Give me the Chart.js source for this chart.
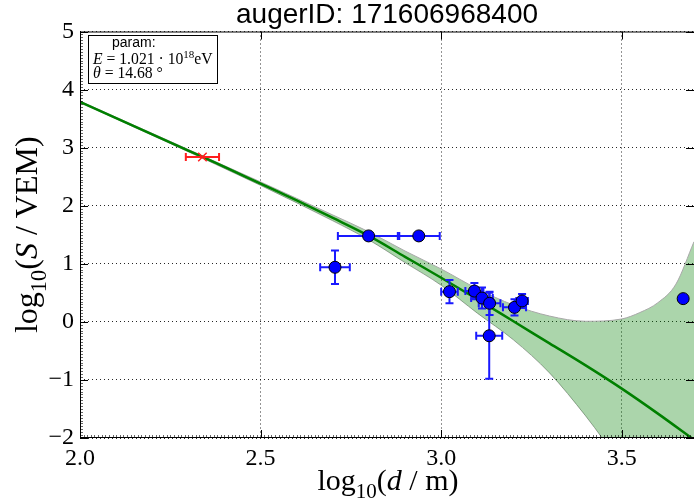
<!DOCTYPE html>
<html><head><meta charset="utf-8">
<script src="https://cdn.jsdelivr.net/npm/chart.js@4/dist/chart.umd.min.js"></script>
<style>html,body{margin:0;padding:0;background:#fff;overflow:hidden}canvas{display:block}</style>
</head><body>
<canvas id="c" width="694" height="501"></canvas>
<script>
// ---------- data ----------
const titleText = 'augerID: 171606968400';
const xTickValues = [2.0, 2.5, 3.0, 3.5];
const yTickValues = [-2, -1, 0, 1, 2, 3, 4, 5];

// fitted LDF (green line)
const fitX = [2.0, 2.1, 2.2, 2.3, 2.4, 2.5, 2.6, 2.7, 2.8, 2.9, 3.0, 3.1, 3.2, 3.3, 3.4, 3.5, 3.6, 3.7];
const fitY = [3.79, 3.51, 3.23, 2.95, 2.67, 2.38, 2.09, 1.79, 1.48, 1.12, 0.76, 0.39, 0.01, -0.37, -0.75, -1.15, -1.58, -2.03];

// uncertainty band
const bandX     = [2.0, 2.5, 2.7, 2.8, 2.9, 3.0, 3.1, 3.2, 3.3, 3.4, 3.5, 3.55, 3.6, 3.65, 3.7];
const bandUpper = [3.80, 2.41, 1.84, 1.55, 1.22, 0.91, 0.57, 0.29, 0.10, 0.01, 0.05, 0.16, 0.33, 0.65, 1.38];
const bandLower = [3.78, 2.35, 1.74, 1.41, 1.02, 0.63, 0.15, -0.31, -0.88, -1.62, -2.45, -2.80, -3.15, -3.60, -4.10];

// stations (blue)
const stationX    = [2.706, 2.799, 2.938, 3.023, 3.092, 3.113, 3.134, 3.133, 3.203, 3.224, 3.67];
const stationY    = [0.94, 1.48, 1.48, 0.52, 0.53, 0.41, 0.32, -0.24, 0.25, 0.36, 0.40];
const stationXErr = [0.041, 0.085, 0.058, 0.023, 0.025, 0.03, 0.03, 0.036, 0.032, 0.016, 0];
const stationYErr = [0.29, 0, 0, 0.20, 0.14, 0.18, 0.20, 0.74, 0.14, 0.12, 0];

// reference point (red cross)
const refX = [2.339];
const refY = [2.84];
const refXErr = [0.046];

const paramEnergy = '1.021';
const paramEnergyExp = '18';
const paramTheta = '14.68';

// ---------- helpers ----------
const pts = (xs, ys) => xs.map((x, i) => ({x: x, y: ys[i]}));
const SERIF = '"Liberation Serif", "DejaVu Serif", serif';
const SANS = '"Liberation Sans", Arial, sans-serif';

function drawRich(ctx, parts, size, x, y, align) {
  const fontFor = p => {
    const s = (p.sub || p.sup) ? size * 0.7 : size;
    return (p.it ? 'italic ' : '') + s + 'px ' + (p.fam || SERIF);
  };
  let total = 0;
  parts.forEach(p => { ctx.font = fontFor(p); p.w = ctx.measureText(p.t).width; total += p.w; });
  let cx = align === 'center' ? x - total / 2 : x;
  parts.forEach(p => {
    ctx.font = fontFor(p);
    let dy = 0;
    if (p.sub) dy = size * 0.28;
    if (p.sup) dy = -size * 0.38;
    ctx.fillText(p.t, cx, y + dy);
    cx += p.w;
  });
}

function drawErrBars(chart, xs, ys, xe, ye, color) {
  const ctx = chart.ctx, xs_ = chart.scales.x, ys_ = chart.scales.y;
  const cap = 4;
  ctx.save();
  ctx.strokeStyle = color;
  ctx.lineWidth = 2;
  for (let i = 0; i < xs.length; i++) {
    const px = xs_.getPixelForValue(xs[i]);
    const py = ys_.getPixelForValue(ys[i]);
    if (xe[i] > 0) {
      const l = xs_.getPixelForValue(xs[i] - xe[i]);
      const r = xs_.getPixelForValue(xs[i] + xe[i]);
      ctx.beginPath();
      ctx.moveTo(l, py); ctx.lineTo(r, py);
      ctx.moveTo(l, py - cap); ctx.lineTo(l, py + cap);
      ctx.moveTo(r, py - cap); ctx.lineTo(r, py + cap);
      ctx.stroke();
    }
    if (ye && ye[i] > 0) {
      const t = ys_.getPixelForValue(ys[i] + ye[i]);
      const b = ys_.getPixelForValue(ys[i] - ye[i]);
      ctx.beginPath();
      ctx.moveTo(px, t); ctx.lineTo(px, b);
      ctx.moveTo(px - cap, t); ctx.lineTo(px + cap, t);
      ctx.moveTo(px - cap, b); ctx.lineTo(px + cap, b);
      ctx.stroke();
    }
  }
  ctx.restore();
}

const deco = {
  id: 'deco',
  beforeDatasetDraw(chart, args) {
    if (args.index === 4) drawErrBars(chart, stationX, stationY, stationXErr, stationYErr, 'rgb(25,25,255)');
    if (args.index === 3) drawErrBars(chart, refX, refY, refXErr, null, 'rgb(255,30,30)');
  },
  afterDraw(chart) {
    const ctx = chart.ctx, a = chart.chartArea;
    const sx = chart.scales.x, sy = chart.scales.y;
    ctx.save();
    ctx.strokeStyle = '#000';
    ctx.lineWidth = 1;
    ctx.beginPath();
    ctx.moveTo(a.left + 0.5, a.top + 0.5); ctx.lineTo(a.right, a.top + 0.5);
    ctx.moveTo(a.left + 0.5, a.top); ctx.lineTo(a.left + 0.5, a.bottom);
    ctx.moveTo(a.left, a.bottom - 0.5); ctx.lineTo(a.right, a.bottom - 0.5);
    ctx.stroke();
    const L = 8;
    ctx.beginPath();
    xTickValues.forEach(v => {
      const p = Math.round(sx.getPixelForValue(v)) + 0.5;
      ctx.moveTo(p, a.bottom); ctx.lineTo(p, a.bottom - L);
      ctx.moveTo(p, a.top); ctx.lineTo(p, a.top + L);
    });
    yTickValues.forEach(v => {
      const p = Math.round(sy.getPixelForValue(v)) + 0.5;
      ctx.moveTo(a.left, p); ctx.lineTo(a.left + L, p);
      ctx.moveTo(a.right, p); ctx.lineTo(a.right - L, p);
    });
    ctx.stroke();
    ctx.strokeStyle = 'rgba(0,0,0,0.6)';
    ctx.beginPath();
    for (let v = -2; v <= 5.0001; v += 0.05) {
      const p = Math.round(sy.getPixelForValue(v)) + 0.5;
      ctx.moveTo(a.left, p); ctx.lineTo(a.left + 3, p);
    }
    for (let v = 2; v <= 3.7; v += 0.01) {
      const p = Math.round(sx.getPixelForValue(v)) + 0.5;
      ctx.moveTo(p, a.bottom); ctx.lineTo(p, a.bottom - 3);
    }
    ctx.stroke();

    // axis titles
    ctx.fillStyle = '#000';
    ctx.textBaseline = 'alphabetic';
    ctx.textAlign = 'left';
    drawRich(ctx, [{t: 'log'}, {t: '10', sub: true}, {t: '('}, {t: 'd', it: true}, {t: ' / m)'}],
      30, 388, 490, 'center');
    ctx.save();
    ctx.translate(37, (a.top + a.bottom) / 2);
    ctx.rotate(-Math.PI / 2);
    drawRich(ctx, [{t: 'log'}, {t: '10', sub: true}, {t: '('}, {t: 'S', it: true}, {t: ' / VEM)'}],
      32, 0, 0, 'center');
    ctx.restore();

    // parameter box
    ctx.fillStyle = '#fff';
    ctx.fillRect(88.5, 35.5, 129, 48);
    ctx.strokeStyle = '#000';
    ctx.lineWidth = 1;
    ctx.strokeRect(88.5, 35.5, 129, 48);
    ctx.fillStyle = '#000';
    ctx.font = '14px ' + SANS;
    ctx.fillText('param:', 112, 47);
    drawRich(ctx, [{t: 'E', it: true}, {t: ' = ' + paramEnergy + ' · 10'}, {t: paramEnergyExp, sup: true}, {t: 'eV'}],
      15.7, 93, 64, 'left');
    drawRich(ctx, [{t: 'θ', it: true}, {t: ' = ' + paramTheta + ' °'}], 15.7, 93, 78, 'left');
    ctx.restore();
  }
};

const gridCol = 'rgba(0,0,0,0.85)';
new Chart(document.getElementById('c'), {
  type: 'line',
  data: {
    datasets: [
      { label: 'lower', data: pts(bandX, bandLower), borderColor: '#a8a8a8', borderWidth: 1,
        pointRadius: 0, fill: false, cubicInterpolationMode: 'monotone', order: 5 },
      { label: 'upper', data: pts(bandX, bandUpper), borderColor: '#a8a8a8', borderWidth: 1,
        pointRadius: 0, fill: '-1', backgroundColor: 'rgba(0,128,0,0.33)', cubicInterpolationMode: 'monotone', order: 4 },
      { label: 'fit', data: pts(fitX, fitY), borderColor: '#008000', borderWidth: 2.5,
        pointRadius: 0, fill: false, cubicInterpolationMode: 'monotone', order: 3 },
      { label: 'ref', data: pts(refX, refY), showLine: false, pointStyle: 'crossRot', pointRadius: 6,
        borderColor: 'rgb(255,30,30)', borderWidth: 1.5, backgroundColor: 'rgb(255,30,30)', order: 2 },
      { label: 'stations', data: pts(stationX, stationY), showLine: false, pointStyle: 'circle', pointRadius: 6,
        backgroundColor: '#0000ff', borderColor: '#000', borderWidth: 1, order: 1 }
    ]
  },
  options: {
    responsive: false,
    devicePixelRatio: 1,
    animation: false,
    events: [],
    layout: { autoPadding: false, padding: { left: 0, right: -1.5, top: 0, bottom: 0 } },
    plugins: {
      legend: { display: false },
      tooltip: { enabled: false },
      title: {
        display: true, text: titleText, fullSize: false, color: '#000',
        font: { family: SANS, size: 28, weight: 'normal', lineHeight: 1.125 },
        padding: { top: 0, bottom: 0 }
      }
    },
    scales: {
      x: {
        type: 'linear', min: 2.0, max: 3.7,
        afterBuildTicks: s => { s.ticks = xTickValues.map(v => ({value: v})); },
        afterFit: s => { s.height = 63; },
        ticks: { color: '#000', font: { family: SERIF, size: 24 }, padding: 6,
                 maxRotation: 0, callback: v => v.toFixed(1) },
        grid: { color: gridCol, lineWidth: 1, drawTicks: false },
        border: { display: false, dash: [1, 3] }
      },
      y: {
        type: 'linear', min: -2, max: 5,
        afterBuildTicks: s => { s.ticks = yTickValues.map(v => ({value: v})); },
        afterFit: s => { s.width = 80; },
        ticks: { color: '#000', font: { family: SERIF, size: 24 }, padding: 6,
                 callback: v => v < 0 ? '\u2212' + Math.abs(v) : String(v) },
        grid: { color: gridCol, lineWidth: 1, drawTicks: false },
        border: { display: false, dash: [1, 3] }
      }
    }
  },
  plugins: [deco]
});
</script>
</body></html>
